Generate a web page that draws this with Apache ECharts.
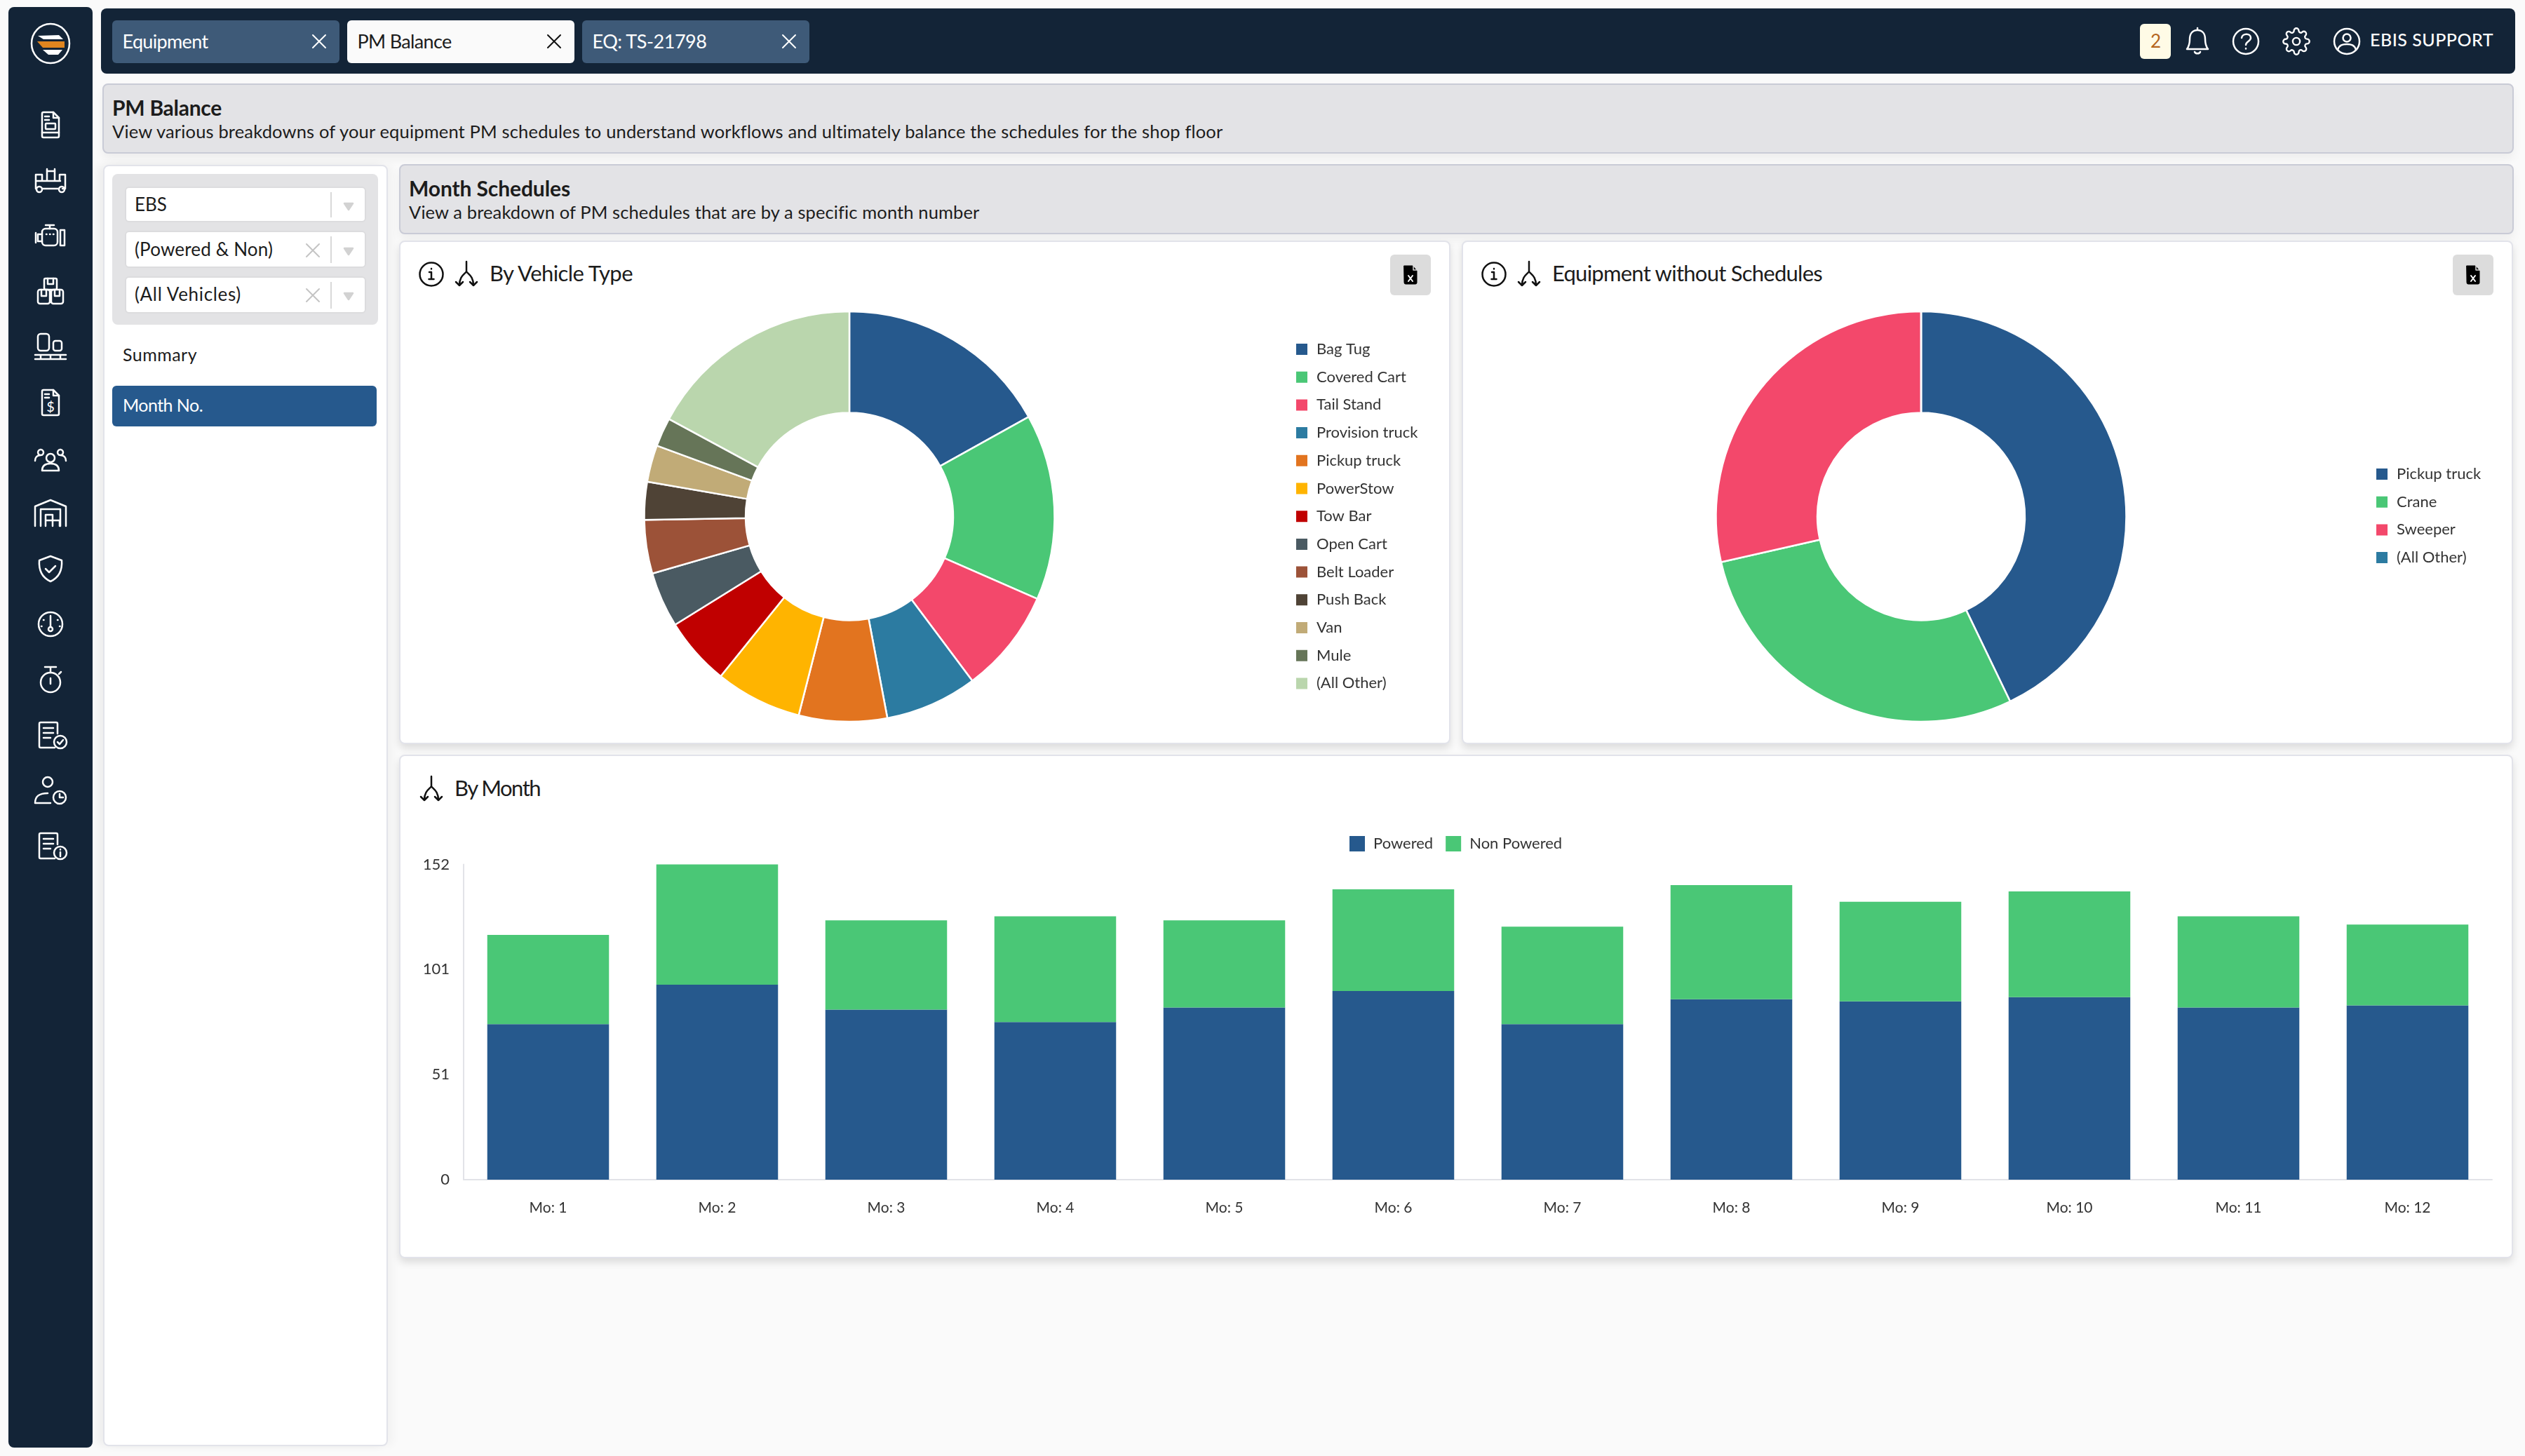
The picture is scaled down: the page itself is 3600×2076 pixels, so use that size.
<!DOCTYPE html>
<html>
<head>
<meta charset="utf-8">
<title>PM Balance</title>
<script src="https://cdn.jsdelivr.net/npm/echarts@6/dist/echarts.min.js"></script>
<style>
  html,body{margin:0;padding:0;width:3600px;height:2076px;overflow:hidden;background:#fafafa;font-family:Lato,"Noto Sans",sans-serif;color:#1c1c1c}
  .b{position:absolute;box-sizing:border-box}
  .t{position:absolute;white-space:nowrap;line-height:1;transform:translateY(-50%)}
  .panel{background:#e3e3e6;border:2px solid #c9cbd6;border-radius:8px;box-shadow:0 8px 14px rgba(0,0,0,.05)}
  .card{background:#fff;border:2px solid #e2e3ea;border-radius:8px;box-shadow:0 6px 12px rgba(0,0,0,.12)}
  svg{position:absolute;fill:none;stroke:currentColor;stroke-width:2.5;stroke-linecap:round;stroke-linejoin:round;overflow:visible}
  .chart{position:absolute}
</style>
</head>
<body>
<div id="page"></div>
<script>
// 数据
const vehicleTypes=["Bag Tug","Covered Cart","Tail Stand","Provision truck","Pickup truck","PowerStow","Tow Bar","Open Cart","Belt Loader","Push Back","Van","Mule","(All Other)"];
const vehicleCounts=[268,232,130,115,110,108,85,69,67,47,46,36,271];
const vehicleColors=["#26598d","#4ac776","#f3486b","#2c7ba1","#e2741f","#ffb400","#c00000","#4a5a62","#9c5238","#4f4336","#c1ab77","#667558","#bad6ad"];

const noScheduleTypes=["Pickup truck","Crane","Sweeper","(All Other)"];
const noScheduleCounts=[3,2,2,0];

const months=["Mo: 1","Mo: 2","Mo: 3","Mo: 4","Mo: 5","Mo: 6","Mo: 7","Mo: 8","Mo: 9","Mo: 10","Mo: 11","Mo: 12"];
const poweredCounts=[75,94,82,76,83,91,75,87,86,88,83,84];
const nonPoweredCounts=[43,58,43,51,42,49,47,55,48,51,44,39];
const yMax=152;

const page=document.getElementById('page');

// 页面外壳
function box(x,y,w,h,cls,css){
  let d=document.createElement('div');
  d.className='b '+(cls||'');
  d.style.cssText=`left:${x}px;top:${y}px;width:${w}px;height:${h}px;`+(css||'');
  page.appendChild(d);
  return d;
}
function txt(x,cy,str,size,fitW,css){
  let d=document.createElement('div');
  d.className='t';
  d.textContent=str;
  d.style.cssText=`left:${x}px;top:${cy-2}px;font-size:${size}px;`+(css||'');
  page.appendChild(d);
  if(fitW){ //字体不同，用字距对齐宽度
    let w=d.getBoundingClientRect().width;
    d.style.letterSpacing=((fitW-w)/str.length)+'px';
  }
  return d;
}
function icon(cx,cy,inner,color,sw){
  let s=document.createElementNS('http://www.w3.org/2000/svg','svg');
  s.setAttribute('viewBox','0 0 48 48');
  s.setAttribute('width',48);s.setAttribute('height',48);
  s.style.cssText=`left:${cx-24}px;top:${cy-24}px;color:${color||'#fff'};`+(sw?`stroke-width:${sw}`:'');
  s.innerHTML=inner;
  page.appendChild(s);
}

const DOC='<path d="M14 6h14l8 8v26a2 2 0 0 1-2 2H14a2 2 0 0 1-2-2V8a2 2 0 0 1 2-2z"/>';
const sideIcons=[
  DOC+'<path d="M28 6v8h8M16 12h6M16 17h6"/><rect x="17" y="22" width="14" height="8" rx="1"/><path d="M12 35h24"/>',
  '<path d="M3 36V16h9v9h7V11h11v14h7v-9h8v20h-4M12 36h24M12 25h26M3 25h9"/><circle cx="8" cy="37" r="4"/><circle cx="40" cy="37" r="4"/><path d="M19 11V8M30 11V8"/>',
  '<rect x="12" y="14" width="22" height="24" rx="5"/><path d="M17 9h12M23 9v5M12 22H6v10h6M3 20v14M38 16h6v22h-6zM18 22h.5M23 22h.5M28 22h.5"/>',
  '<rect x="15" y="6" width="18" height="16" rx="2"/><rect x="6" y="22" width="17" height="20" rx="3"/><rect x="25" y="22" width="17" height="20" rx="3"/><path d="M20 6v8h8V6M11 22v9h7v-9M30 22v9h7v-9"/>',
  '<rect x="6" y="6" width="16" height="24" rx="4"/><rect x="28" y="16" width="12" height="14" rx="3"/><path d="M2 36h44M2 42h44M10 36v6M24 36v6M38 36v6"/>',
  DOC+'<path d="M28 6v8h8M16 12h6M16 17h6"/><text x="24" y="37" font-size="20" text-anchor="middle" fill="#fff" stroke="none">$</text>',
  '<circle cx="24" cy="24" r="6"/><path d="M12 42c0-8 5-10 12-10s12 2 12 10zM10 12a4 4 0 1 0 .1 0M38 12a4 4 0 1 0 .1 0M2 28c0-5 3-8 8-8M46 28c0-5-3-8-8-8"/>',
  '<path d="M2 42V14L24 5l22 9v28M10 42V18h28v24M17 42V26h10v16M27 42V34h10v8M17 34h10"/>',
  '<path d="M24 6l16 6c1 14-3 24-16 30C11 36 7 26 8 12zM17 24l5 5 9-9"/>',
  '<circle cx="24" cy="24" r="17"/><path d="M24 12v16"/><circle cx="24" cy="31" r="3"/><path d="M14 18h.5M34 18h.5M11 27h.5M37 27h.5"/>',
  '<circle cx="24" cy="28" r="14"/><path d="M24 6v8M16 6h16M24 22v8M36 16l3-3"/>',
  '<g transform="translate(2 0)"><path d="M32 22V8a2 2 0 0 0-2-2H8a2 2 0 0 0-2 2v32a2 2 0 0 0 2 2h20"/><path d="M12 14h14M12 21h14M12 28h10"/><circle cx="36" cy="34" r="9"/><path d="M32 34l3 3 5-6"/></g>',
  '<circle cx="20" cy="12" r="7"/><path d="M2 42c0-10 6-14 18-14M2 42h22"/><circle cx="37" cy="34" r="9"/><path d="M37 29v5h5"/>',
  '<g transform="translate(2 0)"><path d="M32 22V8a2 2 0 0 0-2-2H8a2 2 0 0 0-2 2v32a2 2 0 0 0 2 2h20"/><path d="M12 14h14M12 21h14M12 28h10"/><circle cx="36" cy="34" r="9"/><path d="M36 33v6M36 29v.5"/></g>'
];
const FORK='<path d="M24 6v14c-2 4-10 6-10 20M24 20c2 4 10 6 10 20M9 35l5 5 5-5M29 35l5 5 5-5"/>';
const INFO='<circle cx="24" cy="24" r="16.5"/><path d="M21 21h3v10M20.500 31h7M24 16v.5"/>';
const XLS='<path d="M15 11h12l6 7v17a2 2 0 0 1-2 2H17a2 2 0 0 1-2-2z" fill="#000" stroke="#000" stroke-width="1"/><path d="M28 11v6h6" stroke="#dcdcdc" stroke-width="1.500"/><path d="M21 25l6 8M27 25l-6 8" stroke="#fff" stroke-width="2"/>';
const CROSS='<path d="M15 15l18 18M33 15L15 33"/>';
const GEAR='<g transform="translate(3.600 3.600) scale(1.700)" stroke-width="1.400"><path d="M12 15a3 3 0 1 0 0-6 3 3 0 0 0 0 6z"/><path d="M19.400 15a1.650 1.650 0 0 0 .33 1.820l.06.06a2 2 0 0 1 0 2.830 2 2 0 0 1-2.830 0l-.06-.06a1.650 1.650 0 0 0-1.820-.33 1.650 1.650 0 0 0-1 1.510V21a2 2 0 0 1-2 2 2 2 0 0 1-2-2v-.09A1.650 1.650 0 0 0 9 19.400a1.650 1.650 0 0 0-1.820.33l-.06.06a2 2 0 0 1-2.830 0 2 2 0 0 1 0-2.830l.06-.06a1.650 1.650 0 0 0 .33-1.820 1.650 1.650 0 0 0-1.510-1H3a2 2 0 0 1-2-2 2 2 0 0 1 2-2h.09A1.650 1.650 0 0 0 4.600 9a1.650 1.650 0 0 0-.33-1.820l-.06-.06a2 2 0 0 1 0-2.830 2 2 0 0 1 2.830 0l.06.06a1.650 1.650 0 0 0 1.820.33H9a1.650 1.650 0 0 0 1-1.510V3a2 2 0 0 1 2-2 2 2 0 0 1 2 2v.09a1.650 1.650 0 0 0 1 1.510 1.650 1.650 0 0 0 1.820-.33l.06-.06a2 2 0 0 1 2.830 0 2 2 0 0 1 0 2.830l-.06.06a1.650 1.650 0 0 0-.33 1.820V9a1.650 1.650 0 0 0 1.510 1H21a2 2 0 0 1 2 2 2 2 0 0 1-2 2h-.09a1.650 1.650 0 0 0-1.510 1z"/></g>';

// 左侧导航
box(12,10,120,2054,'','background:#132437;border-radius:8px');
icon(72,62,'<ellipse cx="24" cy="24" rx="27" ry="28"/><path d="M6 13l30-1 6 6H14z" fill="#fff" stroke="none"/><path d="M5 21h39v9H13z" fill="#e0851f" stroke="none"/><path d="M13 33h28l-6 7h-14z" fill="#fff" stroke="none"/>');
sideIcons.forEach(function(s,i){ icon(72,178+i*79.1,s); });

// 顶部栏
box(144,12,3442,93,'','background:#132437;border-radius:8px');
[["Equipment",160,false,122],["PM Balance",495,true,134],["EQ: TS-21798",830,false,163]].forEach(function(t){
  box(t[1],29,324,61,'',`background:${t[2]?'#fafafa':'#3e5a78'};border-radius:6px`);
  txt(t[1]+14.5,60,t[0],27,t[3],`color:${t[2]?'#1c1c1c':'#fff'}`);
  icon(t[1]+295,59,CROSS,t[2]?'#111':'#fff',2);
});
box(3051,34,44,50,'','background:#fffbe6;border-radius:6px');
txt(3066,60,"2",26,0,'color:#b5651d');
icon(3133,58,'<path d="M24 9c-7 0-11 5-11 13 0 7-1 10-4 14h30c-3-4-4-7-4-14 0-8-4-13-11-13zM24 6v3M20 40c1 3 7 3 8 0"/>');
icon(3202,59,'<circle cx="24" cy="24" r="18"/><path d="M18 19c1-7 13-7 13 0 0 5-7 5-7 10M24 34v.5"/>');
icon(3274,59,GEAR);
icon(3346,59,'<circle cx="24" cy="24" r="18"/><circle cx="24" cy="19" r="5.500"/><path d="M11 36c2-7 7-8 13-8s11 1 13 8"/>');
txt(3379,58,"EBIS SUPPORT",25,176,'color:#fff;font-weight:500');

// 标题区
box(146,119,3438,100,'panel');
txt(160,155,"PM Balance",30,156,'font-weight:700');
txt(160,190,"View various breakdowns of your equipment PM schedules to understand workflows and ultimately balance the schedules for the shop floor",25.5,1584);

// 左侧筛选
box(147,235,406,1827,'card','box-shadow:-8px 0 12px rgba(0,0,0,.05),8px 0 12px rgba(0,0,0,.03)');
box(160,248,379,215,'','background:#e3e3e5;border-radius:8px');
[[266,"EBS",0,false,293],[329,"(Powered & Non)",197,true,357],[394,"(All Vehicles)",152,true,420.5]].forEach(function(f){
  box(178,f[0],344,f[0]==266?51:53,'','background:#fff;border:2px solid #dcdcde;border-radius:6px');
  txt(192,f[4],f[1],26,f[2]);
  box(471,f[0]+8,2,f[0]==266?36:38,'','background:#d9d9d9');
  icon(497,f[4]+1,'<path d="M18 20h12l-6 9z" fill="#d2d2d2" stroke="#d2d2d2"/>','#d2d2d2');
  if(f[3]) icon(446,f[4],CROSS,'#c4c4c4',2);
});
txt(175,507,"Summary",25,106);
box(160,550,377,58,'','background:#26598d;border-radius:6px');
txt(175,579,"Month No.",25,114,'color:#fff');

box(569,234,3015,100,'panel');
txt(583,270,"Month Schedules",30,230,'font-weight:700');
txt(583,305,"View a breakdown of PM schedules that are by a specific month number",25.5,813);

// 卡片
box(569,343,1499,718,'card');
box(2084,343,1499,718,'card');
box(569,1076,3014,718,'card');

icon(615,391,INFO,'#111');
icon(665,391,FORK,'#111');
txt(698,391,"By Vehicle Type",31,204);
box(1982,363,58,58,'','background:#dcdcdc;border-radius:6px');
icon(2011,392,XLS,'#000');

icon(2130,391,INFO,'#111');
icon(2180,391,FORK,'#111');
txt(2213,391,"Equipment without Schedules",31,385);
box(3497,363,58,58,'','background:#dcdcdc;border-radius:6px');
icon(3526,392,XLS,'#000');

icon(615,1125,FORK,'#111');
txt(648,1125,"By Month",31,122);

// 图表
function chartDiv(x,y,w,h){
  let d=document.createElement('div');
  d.className='chart';
  d.style.cssText=`left:${x}px;top:${y}px;width:${w}px;height:${h}px`;
  page.appendChild(d);
  return echarts.init(d);
}
function donut(names,values,center,legendLeft,legendTop){
  return {
    animation:false,
    color:vehicleColors,
    legend:{
      orient:'vertical',
      left:legendLeft,top:legendTop,
      padding:0,
      itemWidth:18,itemHeight:18,itemGap:17.7,
      icon:'rect',selectedMode:false,
      data:names,
      textStyle:{fontFamily:'Lato',fontSize:22,color:'#333',padding:[0,0,0,7]}
    },
    series:[{
      type:'pie',
      radius:[148,292.5],
      center:center,
      startAngle:90,
      silent:true,
      label:{show:false},
      labelLine:{show:false},
      itemStyle:{borderColor:'#fff',borderWidth:2.5},
      data:names.map(function(n,i){ return {name:n,value:values[i]}; })
    }]
  };
}

let vehiclePie=chartDiv(569,344,1498,717);
vehiclePie.setOption(donut(vehicleTypes,vehicleCounts,[642,392.5],1277,143));

let noSchedulePie=chartDiv(2084,344,1498,717);
noSchedulePie.setOption(donut(noScheduleTypes,noScheduleCounts,[655,392.5],1302,321));

let monthBar=chartDiv(569,1077,3013,717);
monthBar.setOption({
  animation:false,
  legend:{
    left:1355,top:115,
    padding:0,
    itemWidth:22,itemHeight:22,itemGap:18,
    icon:'rect',selectedMode:false,
    data:["Powered","Non Powered"],
    textStyle:{fontFamily:'Lato',fontSize:22,color:'#333',padding:[0,0,0,7]}
  },
  grid:{left:92,right:29,top:155.5,bottom:112},
  xAxis:{
    type:'category',
    data:months,
    axisLine:{lineStyle:{color:'#e2e3e8',width:2}},
    axisTick:{show:false},
    axisLabel:{fontFamily:'Lato',fontSize:21,color:'#333',margin:30}
  },
  yAxis:{
    type:'value',
    min:0,max:yMax,interval:yMax/3,
    splitLine:{show:false},
    axisLine:{show:true,lineStyle:{color:'#e2e3e8',width:2}},
    axisTick:{show:false},
    axisLabel:{fontFamily:'Lato',fontSize:22,color:'#333',margin:20,formatter:function(v){return Math.round(v);}}
  },
  series:[
    {name:"Powered",type:'bar',stack:'total',barCategoryGap:'28%',data:poweredCounts,itemStyle:{color:'#26598d'}},
    {name:"Non Powered",type:'bar',stack:'total',data:nonPoweredCounts,itemStyle:{color:'#4ac776'}}
  ]
});
</script>
</body>
</html>
